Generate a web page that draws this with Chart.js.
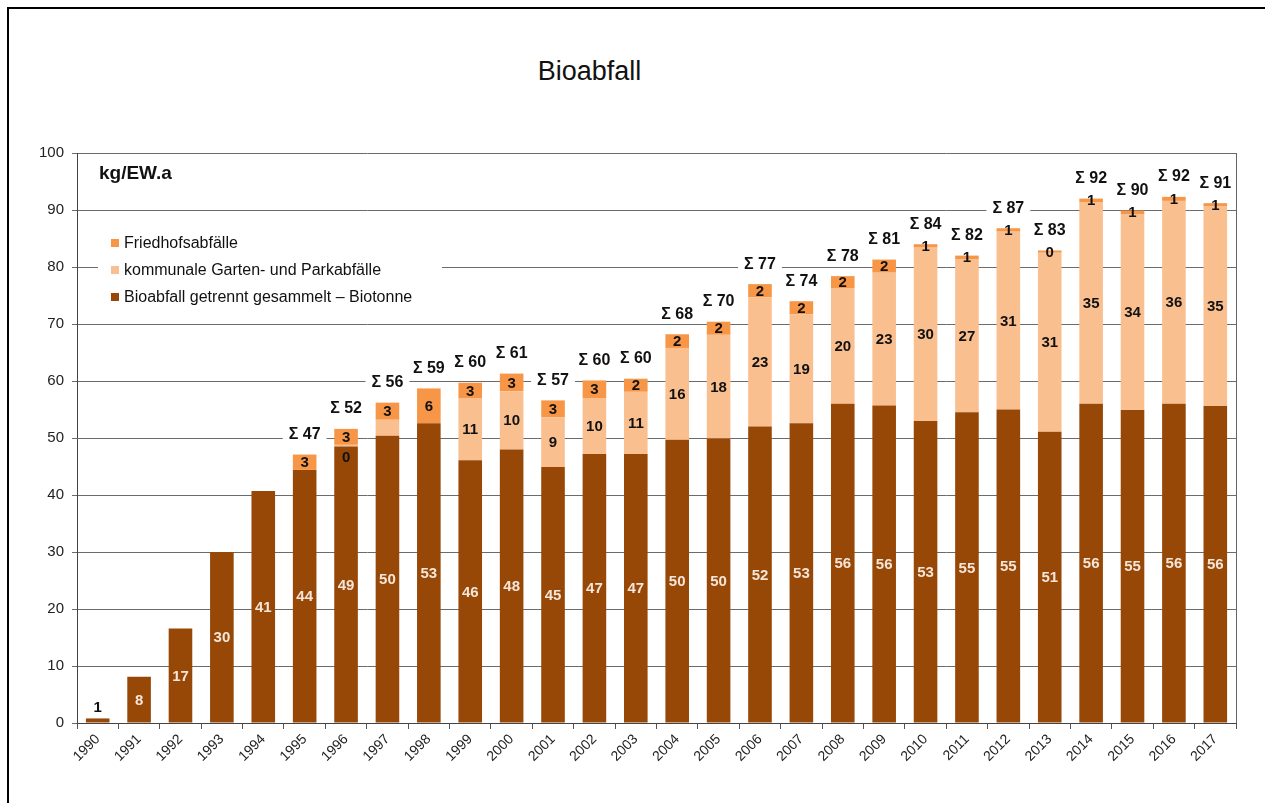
<!DOCTYPE html>
<html lang="de">
<head>
<meta charset="UTF-8">
<title>Bioabfall</title>
<style>
  html, body { margin: 0; padding: 0; background: #fff; }
  body { width: 1265px; height: 803px; position: relative; overflow: hidden; font-family: "Liberation Sans", Arial, sans-serif; }
  .frame { position: absolute; left: 7px; top: 7px; width: 1300px; height: 850px; border-top: 2px solid #000; border-left: 2px solid #000; }
  .title { position: absolute; left: 0; top: 55px; width: 1179px; text-align: center; font-size: 27px; line-height: 32px; color: #111; }
  #chart { position: absolute; left: 0; top: 0; }
</style>
</head>
<body>
<div class="frame"></div>
<div class="title">Bioabfall</div>
<canvas id="chart" width="1265" height="803"></canvas>
<script src="https://cdn.jsdelivr.net/npm/chart.js"></script>
<script>
// kg pro Einwohner und Jahr
const years = ['1990', '1991', '1992', '1993', '1994', '1995', '1996', '1997', '1998', '1999',
  '2000', '2001', '2002', '2003', '2004', '2005', '2006', '2007', '2008', '2009',
  '2010', '2011', '2012', '2013', '2014', '2015', '2016', '2017']
const biotonne = [0.8, 8.1, 16.6, 30.0, 40.7, 44.4, 48.5, 50.4, 52.6, 46.1,
  48.0, 44.9, 47.2, 47.2, 49.7, 49.9, 52.0, 52.6, 56.0, 55.7,
  53.0, 54.5, 55.0, 51.1, 56.0, 54.9, 56.0, 55.6]
const garten = [null, null, null, null, null, null, 0.3, 2.8, null, 10.9,
  10.2, 8.7, 9.8, 10.9, 16.1, 18.2, 22.7, 19.1, 20.3, 23.3,
  30.4, 26.9, 31.2, 31.4, 35.4, 34.4, 35.6, 35.0]
const friedhof = [null, null, null, null, null, 2.7, 2.8, 3.0, 6.1, 2.7,
  3.1, 3.0, 3.1, 2.3, 2.4, 2.3, 2.3, 2.3, 2.1, 2.3,
  0.6, 0.6, 0.6, 0.4, 0.6, 0.6, 0.7, 0.6]
const yTicks = [0, 10, 20, 30, 40, 50, 60, 70, 80, 90, 100]
const noMidLabel = ['1997']

const FONT = '"Liberation Sans", Arial, sans-serif'
Chart.defaults.font.family = FONT

const labelPlugin = {
    id: 'labelPlugin',
    afterDatasetsDraw(chart) {
        const ctx = chart.ctx
        const yScale = chart.scales.y
        ctx.save()
        ctx.font = 'bold 15px ' + FONT
        ctx.textAlign = 'center'
        ctx.textBaseline = 'middle'

        // Werte in den Segmenten
        chart.data.datasets.forEach((ds, di) => {
            const meta = chart.getDatasetMeta(di)
            meta.data.forEach((bar, i) => {
                const v = ds.data[i]
                if (v == null) return
                if (di === 1 && noMidLabel.includes(years[i])) return
                let y = (bar.y + bar.base) / 2
                let color = '#111'
                if (di === 0) {
                    if (v < 3) y = bar.y - 12
                    else color = '#f6e6da'
                }
                if (di === 1 && v < 1) y = bar.base + 10
                ctx.fillStyle = color
                ctx.fillText(String(Math.round(v)), bar.x, y + 1)
            })
        })

        // Summen
        ctx.font = 'bold 16px ' + FONT
        const meta0 = chart.getDatasetMeta(0)
        years.forEach((yr, i) => {
            if (friedhof[i] == null) return
            const total = (biotonne[i] || 0) + (garten[i] || 0) + friedhof[i]
            const txt = 'Σ ' + Math.round(total)
            const x = meta0.data[i].x
            const y = yScale.getPixelForValue(total) - 21
            const w = ctx.measureText(txt).width + 12
            ctx.fillStyle = '#fff'
            ctx.fillRect(x - w / 2, y - 10, w, 20)
            ctx.fillStyle = '#111'
            ctx.fillText(txt, x, y + 1)
        })

        // Einheit
        ctx.textAlign = 'left'
        ctx.font = 'bold 19px ' + FONT
        ctx.fillText('kg/EW.a', chart.chartArea.left + 22, 174)

        // Legende
        ctx.fillStyle = '#fff'
        ctx.fillRect(98, 226, 344, 86)
        ctx.font = '16px ' + FONT
        const rows = [243, 270, 297]
        const order = [2, 1, 0]
        order.forEach((di, k) => {
            const ds = chart.data.datasets[di]
            ctx.fillStyle = ds.backgroundColor
            ctx.fillRect(111, rows[k] - 4, 8, 8)
            ctx.fillStyle = '#111'
            ctx.fillText(ds.label, 124, rows[k] + 1)
        })

        // rechter Rahmen
        const a = chart.chartArea
        ctx.strokeStyle = '#666'
        ctx.lineWidth = 1
        ctx.beginPath()
        ctx.moveTo(a.right + 0.5, a.top)
        ctx.lineTo(a.right + 0.5, a.bottom)
        ctx.stroke()
        ctx.restore()
    }
}

const ctx = document.getElementById('chart')
const myChart = new Chart(ctx, {
    type: 'bar',
    data: {
        labels: years,
        datasets: [{
            label: 'Bioabfall getrennt gesammelt – Biotonne',
            data: biotonne,
            backgroundColor: '#974706'
        }, {
            label: 'kommunale Garten- und Parkabfälle',
            data: garten,
            backgroundColor: '#fabf8f'
        }, {
            label: 'Friedhofsabfälle',
            data: friedhof,
            backgroundColor: '#f79646'
        }]
    },
    options: {
        responsive: false,
        animation: false,
        layout: { padding: { left: 27, right: 29, top: 153, bottom: 0 } },
        datasets: { bar: { barPercentage: 0.57, categoryPercentage: 1, borderWidth: 0 } },
        plugins: { legend: { display: false }, tooltip: { enabled: false } },
        scales: {
            x: {
                stacked: true,
                afterFit: s => { s.height = 80 },
                grid: { offset: true, drawOnChartArea: false, tickLength: 6, color: '#555' },
                border: { color: '#444' },
                ticks: { maxRotation: 45, minRotation: 45, padding: 2, color: '#222', font: { size: 14 } }
            },
            y: {
                stacked: true,
                min: 0,
                max: 100,
                afterFit: s => { s.width = 50 },
                afterBuildTicks: s => { s.ticks = yTicks.map(v => ({ value: v })) },
                grid: { color: '#6b6b6b', tickLength: 5 },
                border: { color: '#444' },
                ticks: { padding: 8, color: '#222', font: { size: 15 } }
            }
        }
    },
    plugins: [labelPlugin]
})
</script>
</body>
</html>
